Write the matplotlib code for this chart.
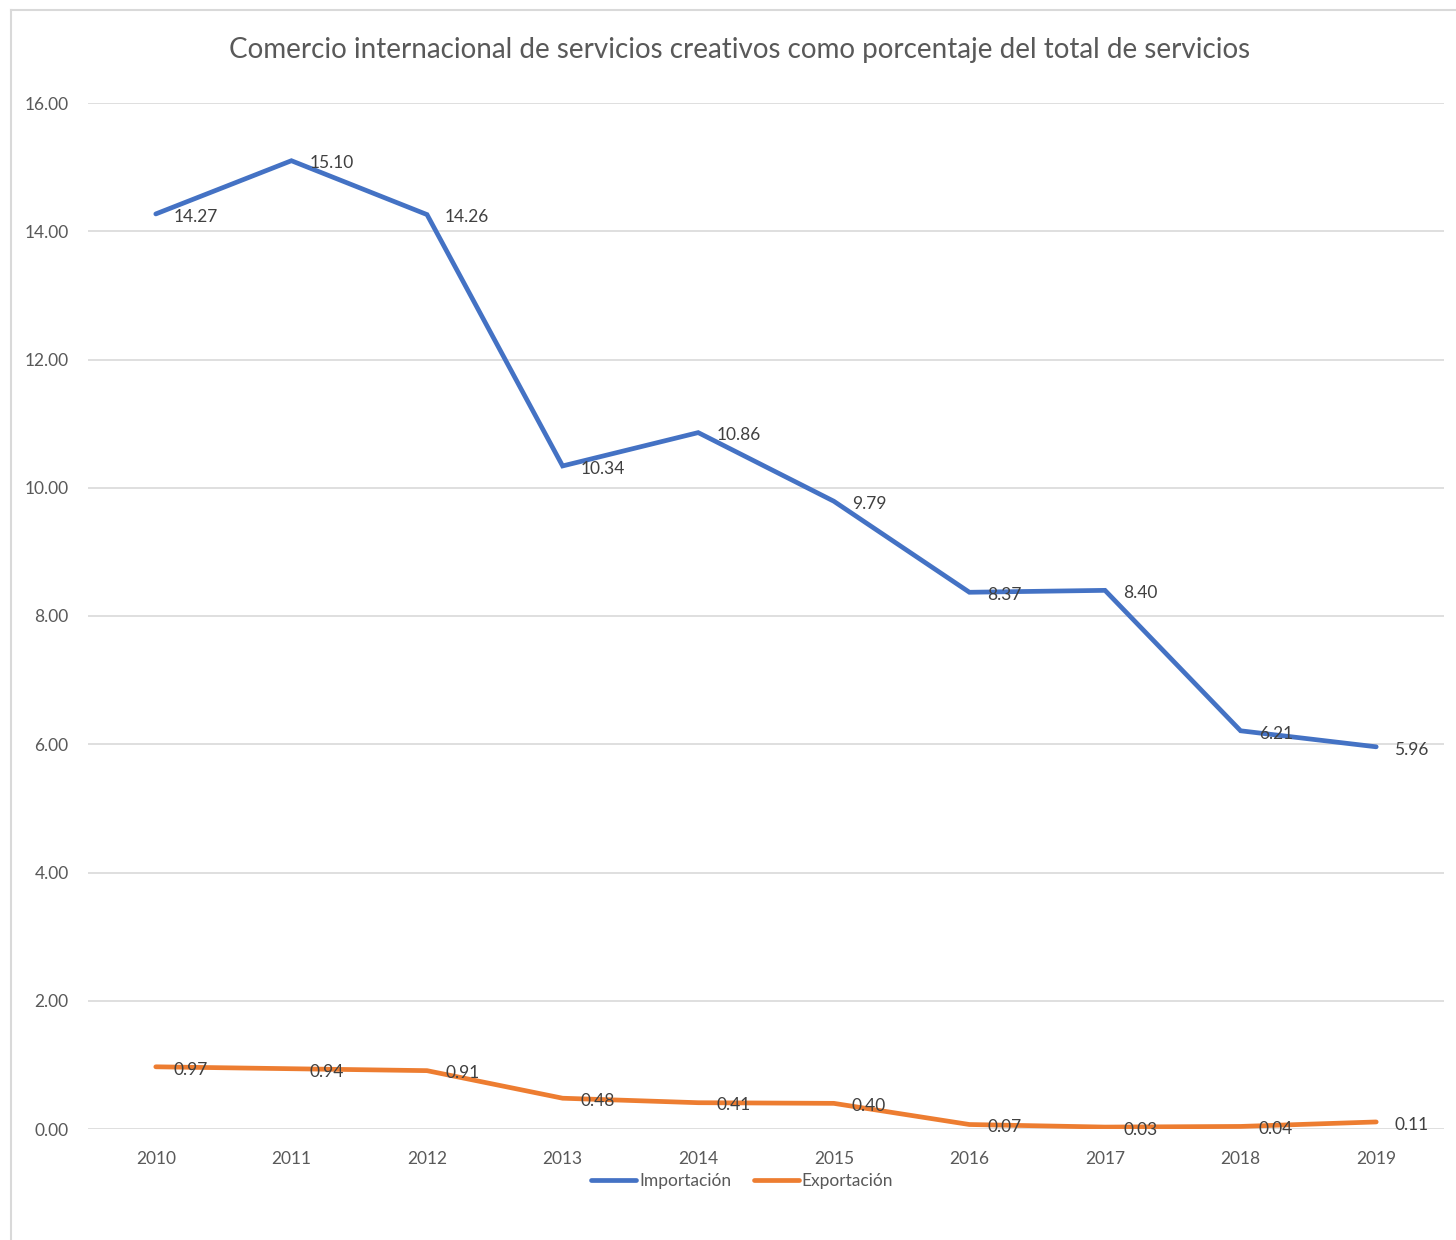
import matplotlib
matplotlib.use("Agg")
import matplotlib.pyplot as plt
from matplotlib.lines import Line2D

plt.rcParams['font.family'] = ['Lato', 'DejaVu Sans']

years = ['2010', '2011', '2012', '2013', '2014', '2015', '2016', '2017', '2018', '2019']
importacion = [14.27, 15.10, 14.26, 10.34, 10.86, 9.79, 8.37, 8.40, 6.21, 5.96]
exportacion = [0.97, 0.94, 0.91, 0.48, 0.41, 0.40, 0.07, 0.03, 0.04, 0.11]
yticks = [0, 2, 4, 6, 8, 10, 12, 14, 16]

BLUE = '#4472C4'
ORANGE = '#ED7D31'
GRID = '#D9D9D9'
TXT = '#595959'
LBL = '#404040'

W, H = 1456, 1240
fig = plt.figure(figsize=(W / 100, H / 100), dpi=100)
fig.patch.set_facecolor('white')

# chart frame (only the left and top edges fall inside the canvas)
fig.add_artist(Line2D([11 / W, 11 / W], [0, 1 - 10 / H], transform=fig.transFigure,
                      color=GRID, lw=1.5))
fig.add_artist(Line2D([11 / W, 1], [1 - 10 / H, 1 - 10 / H], transform=fig.transFigure,
                      color=GRID, lw=1.5))

ax = fig.add_axes([88 / W, 111 / H, (1444 - 88) / W, (1129 - 103) / H])
x = list(range(len(years)))

ax.plot(x, importacion, color=BLUE, lw=3.4, solid_capstyle='round',
        solid_joinstyle='miter', label='Importación', zorder=3)
ax.plot(x, exportacion, color=ORANGE, lw=3.4, solid_capstyle='round',
        solid_joinstyle='miter', label='Exportación', zorder=3)

for xi, v in zip(x, importacion):
    ax.annotate(f"{v:.2f}", (xi, v), xytext=(13, -2), textcoords='offset points',
                ha='left', va='center', fontsize=12.5, color=LBL, zorder=4)
for xi, v in zip(x, exportacion):
    ax.annotate(f"{v:.2f}", (xi, v), xytext=(13, -2), textcoords='offset points',
                ha='left', va='center', fontsize=12.5, color=LBL, zorder=4)

ax.set_xlim(-0.5, len(years) - 0.5)
ax.set_ylim(0, 16)
ax.set_yticks(yticks)
ax.set_yticklabels([f"{t:.2f}" for t in yticks])
ax.set_xticks(x)
ax.set_xticklabels(years)
ax.tick_params(axis='both', length=0, labelsize=12.5, colors=TXT)
ax.tick_params(axis='y', pad=14)
ax.tick_params(axis='x', pad=16)
ax.grid(axis='y', color=GRID, lw=1.2)
ax.set_axisbelow(True)
for s in ax.spines.values():
    s.set_visible(False)

fig.text(740 / W, 1 - 50 / H,
         "Comercio internacional de servicios creativos como porcentaje del total de servicios",
         ha='center', va='center', fontsize=20, color=TXT)

fig.legend(handles=ax.get_lines(), loc='center', bbox_to_anchor=(742 / W, 1 - 1181 / H),
           ncol=2, frameon=False, fontsize=12.5, labelcolor=TXT, handlelength=2.6,
           handletextpad=0.15, columnspacing=1.3)

fig.savefig('out.png', dpi=100, facecolor='white')
